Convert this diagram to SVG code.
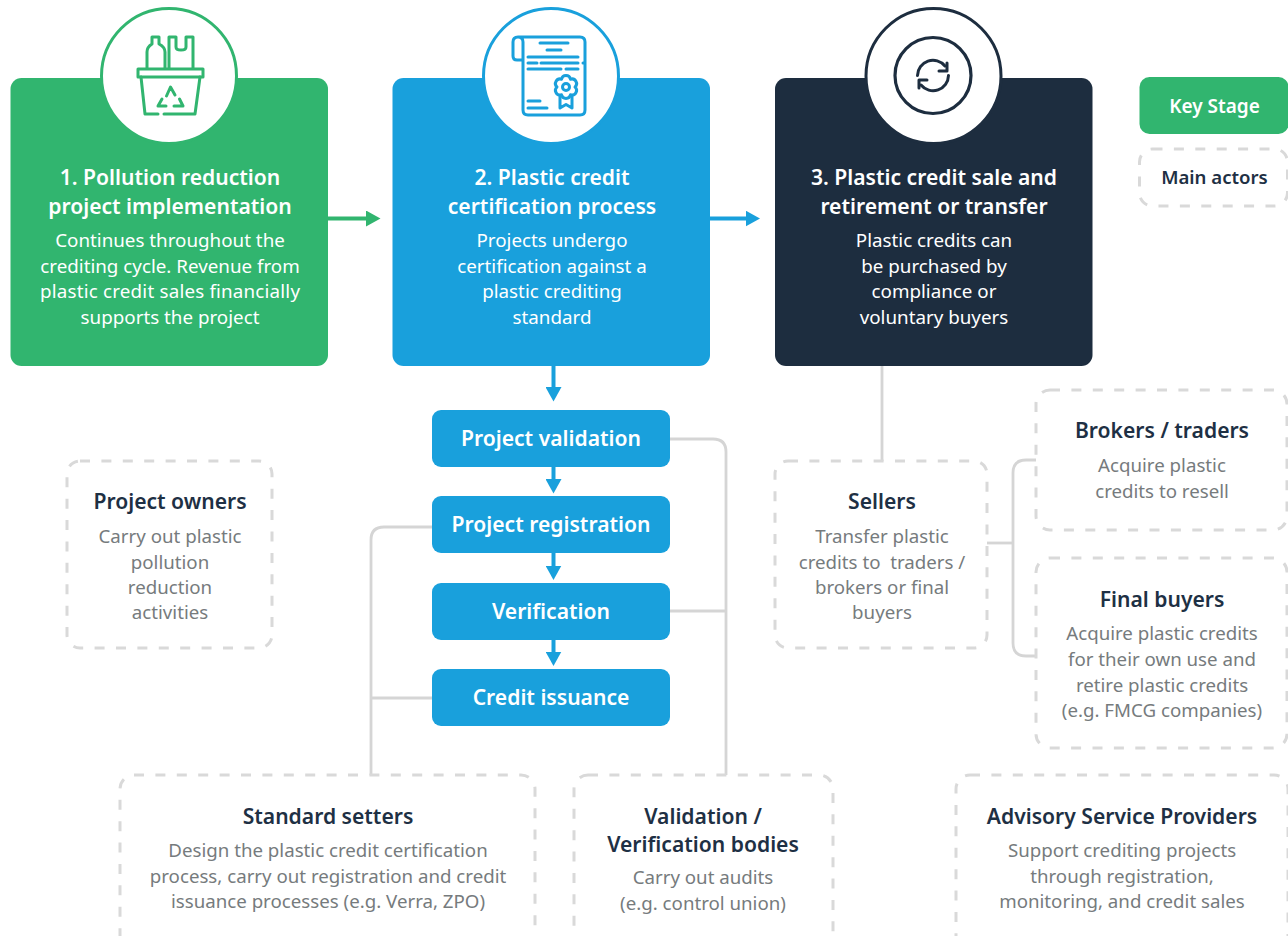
<svg xmlns="http://www.w3.org/2000/svg" width="1288" height="936" viewBox="0 0 1288 936">
<style>
text{font-family:"Noto Sans","Open Sans",sans-serif;text-anchor:middle;white-space:pre}
.h{font-size:21.1px;font-weight:600;fill:#fff}
.b{font-size:18.8px;fill:#fff}
.s{font-size:21.1px;font-weight:600;fill:#fff}
.t{font-size:21.1px;font-weight:600;fill:#1e3044}
.d{font-size:18.7px;fill:#767b7d}
.actor{fill:#fff;stroke:#d9d9d9;stroke-width:3;stroke-dasharray:10 11.4}
.line{fill:none;stroke:#d5d5d5;stroke-width:2.8}
.ic{fill:none;stroke-width:3;stroke-linecap:round;stroke-linejoin:round}
.ab{fill:none;stroke:#19a0dc;stroke-width:4;marker-end:url(#ab)}
</style>
<defs>
<marker id="ag" markerWidth="16" markerHeight="16" refX="2" refY="8" orient="auto" markerUnits="userSpaceOnUse"><path d="M0 0L14.5 8L0 16Z" fill="#31b56f"/></marker>
<marker id="ab" markerWidth="16" markerHeight="16" refX="2" refY="8" orient="auto" markerUnits="userSpaceOnUse"><path d="M0 0L14.5 8L0 16Z" fill="#19a0dc"/></marker>
</defs>
<g id="connectors">
<path class="line" d="M882 366V461"/>
<path class="line" d="M670 439H713Q726 439 726 452V775"/>
<path class="line" d="M670 611H726"/>
<path class="line" d="M432 527H384Q371 527 371 540V775"/>
<path class="line" d="M371 698H432"/>
<path class="line" d="M987 543H1013"/>
<path class="line" d="M1036 460H1026Q1013 460 1013 473V643Q1013 656 1026 656H1036"/>
<path d="M328 218.5H368" fill="none" stroke="#31b56f" stroke-width="4" marker-end="url(#ag)"/>
<path class="ab" d="M710 218.5H747.5"/>
<path class="ab" d="M553.5 366V389"/>
<path class="ab" d="M553.5 467V481"/>
<path class="ab" d="M553.5 553V567.500"/>
<path class="ab" d="M553.5 640V653.500"/>
</g>
<g id="stage1">
<rect x="10.5" y="78" width="317.5" height="288" rx="11" fill="#31b56f"/>
<circle cx="169" cy="76" r="67.5" fill="#fff" stroke="#31b56f" stroke-width="3"/>
<g class="ic" stroke="#31b56f">
<path d="M138 69H203V77H138Z"/>
<path d="M141 77L145 114H158M164 114H195L200 77"/>
<path d="M147 68V52Q147 47 152 44V37H159V44Q165 47 165 52V68"/>
<path d="M169 68V37H176V47Q176 50 181 50Q186 50 186 47V37H193V68"/>
<path d="M166.500 96L170.500 87L175 95M174 106H183L179.500 99M158 106H166M158 106L162 99"/>
</g>
<text class="h" x="170" y="185">1. Pollution reduction</text>
<text class="h" x="170" y="214">project implementation</text>
<text class="b" x="170" y="247">Continues throughout the</text>
<text class="b" x="170" y="273">crediting cycle. Revenue from</text>
<text class="b" x="170" y="298" textLength="260">plastic credit sales financially</text>
<text class="b" x="170" y="324">supports the project</text>
</g>
<g id="stage2">
<rect x="392.500" y="78" width="317.500" height="288" rx="11" fill="#19a0dc"/>
<circle cx="551" cy="76" r="67.500" fill="#fff" stroke="#19a0dc" stroke-width="3"/>
<g class="ic" stroke="#19a0dc">
<path d="M523 60H517Q513 60 513 56V42Q513 37 518 37H580Q585 37 585 42V110Q585 115 580 115H528Q523 115 523 110V42Q523 37 518 37"/>
<path d="M540 43H568M547 50H561M528 57H578M528 63H537M541 63H578M583 63H584M528 69H561M566 69H578M528 101H540M528 108H547"/>
<path d="M575 87A4.600 4.600 0 0 1 570.500 94.800A4.600 4.600 0 0 1 561.500 94.800A4.600 4.600 0 0 1 557 87A4.600 4.600 0 0 1 561.500 79.200A4.600 4.600 0 0 1 570.500 79.200A4.600 4.600 0 0 1 575 87Z"/>
<circle cx="566" cy="87" r="3.500"/>
<path d="M560 97V108L566 104.500L572 108V97"/>
</g>
<text class="h" x="552" y="185">2. Plastic credit</text>
<text class="h" x="552" y="214">certification process</text>
<text class="b" x="552" y="247">Projects undergo</text>
<text class="b" x="552" y="273">certification against a</text>
<text class="b" x="552" y="298">plastic crediting</text>
<text class="b" x="552" y="324">standard</text>
</g>
<g id="stage3">
<rect x="775" y="78" width="317.500" height="288" rx="11" fill="#1d2d3f"/>
<circle cx="933.500" cy="76" r="67.500" fill="#fff" stroke="#1d2d3f" stroke-width="3"/>
<g class="ic" stroke="#1d2d3f">
<circle cx="933" cy="75.500" r="38" stroke-width="3.200"/>
<path d="M917.500 75.500A15.500 15.500 0 0 1 945 66M948.500 75.500A15.500 15.500 0 0 1 921 85"/>
<path d="M947 63V71H939M919 88V80H927"/>
</g>
<text class="h" x="934" y="185">3. Plastic credit sale and</text>
<text class="h" x="934" y="214">retirement or transfer</text>
<text class="b" x="934" y="247">Plastic credits can</text>
<text class="b" x="934" y="273">be purchased by</text>
<text class="b" x="934" y="298">compliance or</text>
<text class="b" x="934" y="324">voluntary buyers</text>
</g>
<g id="legend-key"><rect x="1139.500" y="77" width="149" height="57" rx="10" fill="#31b56f"/><text x="1214.500" y="113" style="font-size:19px;font-weight:600;fill:#fff">Key Stage</text></g>
<g id="legend-actors"><rect class="actor" x="1139.500" y="149" width="148" height="57" rx="13"/><text x="1214.500" y="184" style="font-size:18.600px;font-weight:600;fill:#1e3044">Main actors</text></g>
<g id="project-validation"><rect x="432" y="410" width="238" height="57" rx="9" fill="#19a0dc"/><text class="s" x="551" y="446">Project validation</text></g>
<g id="project-registration"><rect x="432" y="496" width="238" height="57" rx="9" fill="#19a0dc"/><text class="s" x="551" y="532">Project registration</text></g>
<g id="verification"><rect x="432" y="583" width="238" height="57" rx="9" fill="#19a0dc"/><text class="s" x="551" y="619">Verification</text></g>
<g id="credit-issuance"><rect x="432" y="669" width="238" height="57" rx="9" fill="#19a0dc"/><text class="s" x="551" y="705">Credit issuance</text></g>
<g id="project-owners"><rect class="actor" x="67" y="461" width="205" height="187" rx="13"/>
<text class="t" x="170" y="509">Project owners</text>
<text class="d" x="170" y="543">Carry out plastic</text><text class="d" x="170" y="569">pollution</text><text class="d" x="170" y="594">reduction</text><text class="d" x="170" y="619">activities</text></g>
<g id="sellers"><rect class="actor" x="775" y="461" width="212" height="187" rx="13"/>
<text class="t" x="882" y="509">Sellers</text>
<text class="d" x="882" y="543">Transfer plastic</text><text class="d" x="882" y="569">credits to  traders /</text><text class="d" x="882" y="594">brokers or final</text><text class="d" x="882" y="619">buyers</text></g>
<g id="brokers"><rect class="actor" x="1036" y="390" width="251" height="140" rx="14"/>
<text class="t" x="1162" y="438">Brokers / traders</text>
<text class="d" x="1162" y="472">Acquire plastic</text><text class="d" x="1162" y="498">credits to resell</text></g>
<g id="final-buyers"><rect class="actor" x="1036" y="558" width="251" height="190" rx="14"/>
<text class="t" x="1162" y="607">Final buyers</text>
<text class="d" x="1162" y="640">Acquire plastic credits</text><text class="d" x="1162" y="666">for their own use and</text><text class="d" x="1162" y="692">retire plastic credits</text><text class="d" x="1162" y="717">(e.g. FMCG companies)</text></g>
<g id="standard-setters"><rect class="actor" x="120" y="775" width="415" height="175" rx="14"/>
<text class="t" x="328" y="824">Standard setters</text>
<text class="d" x="328" y="857">Design the plastic credit certification</text><text class="d" x="328" y="883">process, carry out registration and credit</text><text class="d" x="328" y="908">issuance processes (e.g. Verra, ZPO)</text></g>
<g id="vvb"><rect class="actor" x="574" y="775" width="259" height="175" rx="14"/>
<text class="t" x="703" y="824">Validation /</text><text class="t" x="703" y="852">Verification bodies</text>
<text class="d" x="703" y="884">Carry out audits</text><text class="d" x="703" y="910">(e.g. control union)</text></g>
<g id="advisory"><rect class="actor" x="956" y="775" width="332" height="175" rx="14"/>
<text class="t" x="1122" y="824">Advisory Service Providers</text>
<text class="d" x="1122" y="857">Support crediting projects</text><text class="d" x="1122" y="883">through registration,</text><text class="d" x="1122" y="908">monitoring, and credit sales</text></g>
</svg>
